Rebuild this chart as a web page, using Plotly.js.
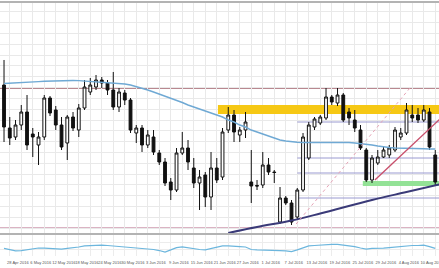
<!DOCTYPE html>
<html><head><meta charset="utf-8">
<script src="https://cdn.plot.ly/plotly-3.0.1.min.js"></script>
<style>html,body{margin:0;padding:0;background:#fff;overflow:hidden}#chart{width:439px;height:268px}</style>
</head><body><div id="chart"></div>
<script>
// price candles (arbitrary price units), one per trading day
const openP  = [215,172,163,175,188,166,155,163,202,190,175,157,183,170,192,208,213,220,217,210,193,207,200,167,172,155,163,147,138,118,110,147,152,132,117,125,103,132,123,170,185,165,170,118,114.5,115,135,128,78,102,97,83,110,142,173,177,182,203,197,205,188,180,170,150,120,137,143,145,150,163,167,185,185,180,188,145];
const highP  = [240,183,180,195,205,172,168,205,204,194,183,185,188,196,220,222,225,223,220,228,212,210,202,175,175,170,170,150,142,122,152,168,160,142,130,128,148,142,172,193,190,173,188,150,120,148,142,130,113,104,100,112,167,178,183,185,212,205,212,207,192,190,175,152,145,150,154,155,173,172,197,195,192,195,192,150];
const lowP   = [158,155,160,170,150,143,135,160,184,170,150,140,169,163,190,205,210,212,205,190,188,195,167,157,148,152,145,135,114,100,108,145,130,112,90,93,90,117,120,167,158,158,162,97,110,112,125,117,76,95,75,80,108,140,170,175,180,195,194,178,175,168,150,118,117,135,142,142,148,160,165,178,177,178,150,115];
const closeP = [173,162,175,188,155,163,163,202,187,175,153,183,172,192,213,215,220,217,210,193,208,200,170,172,155,165,148,138,117,110,147,152,138,117,123,103,132,120,168,185,168,170,178,114,114,135,128,127.5,102,97,78,110,163,175,181,183,203,198,205,180,182,172,152,120,142,143,150,152,170,167,190,182,180,190,153,118];
// short moving average
const maShort = [216.5,216.7,217,217.4,217.8,218.1,218.4,218.7,219,219.2,219.4,219.5,219.5,219.4,219,218.8,218.5,218.2,217.9,217.5,217,216,215,213.5,212,210,208,206,204,202,200,197.5,195,193,191,189,187,185,183,180,178,175,173,170,168,166,164,162,160,159,158,157.7,157.5,157.5,157.5,157.7,158,158,158,157.8,157.5,157,156.5,156,155,154,153,152.5,152,151.7,151.5,151.5,151.3,151.2,151,151];
// long moving average (sampled at candle indices)
const longMAIdx = [39,44,50,55,64,70,76];
const longMAVal = [67,73,79.5,86.5,100,108,116];
// oscillator (0-100)
const osc = [36,29,24,26,31,36,38,38,36,33,33,36,38,43,48,50,52,52,50,48,45,43,40,38,38,36,31,26,19,29,40,43,38,33,31,29,36,43,48,48,45,45,43,31,29,29,29,26,26,24,21,29,40,48,50,52,55,55,55,52,50,45,38,33,36,36,38,40,43,45,48,50,50,52,45,36];
// horizontal levels
const resistanceLevel = 212;
const supportLevel = 72;
const fibStartIdx = 51;
const fibLevels = [178,142,127,102];
// zones: [start index, low price, high price]
const yellowZone = [37.2, 186, 195];
const greenZone = [62.4, 114, 119];
// trendlines
const redTrendIdx = [64.5, 76];
const redTrendVal = [120, 182];
const fanLineIdx = [50.8, 70.6];
const fanLineVal = [76, 212];
// x tick labels (every 4th candle)
const tickLabels = ["22 Apr 2016","28 Apr 2016","6 May 2016","12 May 2016","18 May 2016","24 May 2016","30 May 2016","3 Jun 2016","9 Jun 2016","15 Jun 2016","21 Jun 2016","27 Jun 2016","1 Jul 2016","7 Jul 2016","13 Jul 2016","19 Jul 2016","25 Jul 2016","29 Jul 2016","4 Aug 2016","10 Aug 2016"];

const idx = openP.map((_, i) => i);
const xMin = -0.7, xMax = 75.65;
const tickPos = tickLabels.map((_, k) => 4 * k - 1.6);

const traces = [
  {type:'candlestick', x: idx, open: openP, high: highP, low: lowP, close: closeP,
   xaxis:'x', yaxis:'y', whiskerwidth:0,
   increasing:{line:{color:'#111', width:1}, fillcolor:'#ffffff'},
   decreasing:{line:{color:'#111', width:1}, fillcolor:'#111111'},
   hoverinfo:'skip', showlegend:false},
  {type:'scatter', mode:'lines', x: idx, y: maShort, xaxis:'x', yaxis:'y',
   line:{color:'#6fa9d4', width:1.4}, hoverinfo:'skip', showlegend:false},
  {type:'scatter', mode:'lines', x: longMAIdx, y: longMAVal, xaxis:'x', yaxis:'y',
   line:{color:'#3a3a78', width:2, shape:'spline'}, hoverinfo:'skip', showlegend:false},
  {type:'scatter', mode:'lines', x: redTrendIdx, y: redTrendVal, xaxis:'x', yaxis:'y',
   line:{color:'#c8506c', width:1.4}, hoverinfo:'skip', showlegend:false},
  {type:'scatter', mode:'lines', x: fanLineIdx, y: fanLineVal, xaxis:'x', yaxis:'y',
   line:{color:'#e6a3b6', width:1, dash:'dot'}, hoverinfo:'skip', showlegend:false},
  {type:'scatter', mode:'lines', x: idx, y: osc, xaxis:'x2', yaxis:'y2',
   line:{color:'#6cb6dd', width:1.2}, hoverinfo:'skip', showlegend:false}
];

const shapes = [
  {type:'rect', xref:'x', yref:'y', x0: yellowZone[0], x1: xMax, y0: yellowZone[1], y1: yellowZone[2],
   fillcolor:'#f6c814', line:{width:0}, layer:'between'},
  {type:'rect', xref:'x', yref:'y', x0: greenZone[0], x1: xMax, y0: greenZone[1], y1: greenZone[2],
   fillcolor:'#93e296', line:{width:0}, layer:'between'},
  {type:'line', xref:'paper', yref:'y', x0:0, x1:1, y0: resistanceLevel, y1: resistanceLevel,
   line:{color:'#b98890', width:2}, layer:'between'},
  {type:'line', xref:'paper', yref:'y', x0:0, x1:1, y0: supportLevel, y1: supportLevel,
   line:{color:'#dbb3c3', width:2}, layer:'between'}
];
fibLevels.forEach(v => shapes.push({type:'line', xref:'x', yref:'y', x0: fibStartIdx, x1: xMax, y0: v, y1: v,
  line:{color:'#9a9ad0', width:1}, layer:'between'}));

const annotations = [];
tickLabels.forEach((t, k) => { if (tickPos[k] < xMin) annotations.push({xref:'x2', yref:'paper', x: tickPos[k], y: 0,
  yshift:-6, text:t, showarrow:false, font:{size:4, color:'#555'}, xanchor:'center', yanchor:'middle'}); });

const layout = {
  width:439, height:268, margin:{l:0, r:0, t:0, b:12},
  paper_bgcolor:'#fff', plot_bgcolor:'#fff',
  font:{family:'Liberation Sans, Arial, sans-serif', size:4, color:'#555'},
  showlegend:false,
  xaxis:{domain:[0,1], range:[xMin, xMax], anchor:'y', tickmode:'linear', tick0:1, dtick:2,
    showticklabels:false, ticks:'', showgrid:true, gridcolor:'#e9e9e9', gridwidth:1, zeroline:false,
    showline:true, mirror:true, linecolor:'#b3b3b3', linewidth:2, rangeslider:{visible:false}, fixedrange:true},
  yaxis:{domain:[0.0898, 0.9883], range:[67, 297], tickmode:'linear', tick0:288, dtick:10.8,
    showticklabels:false, ticks:'', showgrid:true, gridcolor:'#e9e9e9', zeroline:false, fixedrange:true},
  xaxis2:{domain:[0,1], range:[xMin, xMax], anchor:'y2', tickmode:'array', tickvals: tickPos, ticktext: tickLabels,
    tickangle:0, ticks:'', ticklen:0, ticklabelstandoff:3, ticklabeloverflow:'allow', showgrid:false, zeroline:false, showline:false, tickfont:{size:4, color:'#555'},
    minor:{tickmode:'linear', tick0:1, dtick:2, showgrid:true, gridcolor:'#ececec', ticks:''}, fixedrange:true},
  yaxis2:{domain:[0, 0.082], range:[0, 100], tickmode:'linear', tick0:0, dtick:33.3,
    showticklabels:false, ticks:'', showgrid:true, gridcolor:'#ececec', zeroline:false, fixedrange:true},
  shapes: shapes, annotations: annotations
};

Plotly.newPlot('chart', traces, layout, {staticPlot:true, displayModeBar:false});
</script>
</body></html>
